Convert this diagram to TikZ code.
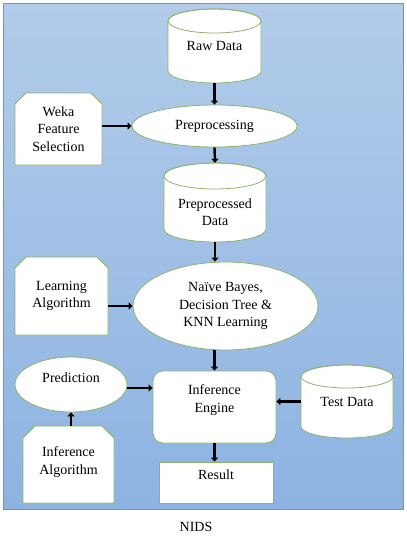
\documentclass[tikz,border=0pt]{standalone}
\usepackage{fontspec}
\setmainfont{Liberation Serif}
\usetikzlibrary{shapes.geometric,arrows.meta,calc}
\definecolor{boxgreen}{HTML}{8DB46A}
\definecolor{bgtop}{HTML}{B2CCEA}
\definecolor{bgbot}{HTML}{8DB3E2}
\definecolor{bgborder}{HTML}{6F93C3}
\newcommand\mycyl[7]{% name, cx, rx, ytop, ybot, ry, text
  \path[fill=white,draw=boxgreen,line width=0.8pt] ({#2-#3},{#4+#6}) -- ({#2-#3},{#5-#6})
    arc[start angle=180,end angle=360,x radius=#3pt,y radius=#6pt]
    -- ({#2+#3},{#4+#6})
    arc[start angle=0,end angle=180,x radius=#3pt,y radius=#6pt] -- cycle;
  \draw[boxgreen,line width=0.8pt] (#2,{#4+#6}) ellipse[x radius=#3pt,y radius=#6pt];
  \node[txt,minimum width={2*#3pt},minimum height={(#5-#4)*1pt}] (#1) at (#2,{(#4+#5)/2}) {#7};
}
\newcommand\mychamf[7]{% name, cx, cy, w, h, chamfer, text
  \path[fill=white,draw=boxgreen,line width=0.8pt]
    ({#2-#4/2},{#3-#5/2+#6}) -- ({#2-#4/2+#6},{#3-#5/2}) -- ({#2+#4/2-#6},{#3-#5/2})
    -- ({#2+#4/2},{#3-#5/2+#6}) -- ({#2+#4/2},{#3+#5/2}) -- ({#2-#4/2},{#3+#5/2}) -- cycle;
  \node[txt,minimum width=#4pt,minimum height=#5pt] (#1) at (#2,#3) {#7};
}
\tikzset{
  txt/.style={inner sep=0pt,align=center,font=\fontsize{14}{17.5}\selectfont},
  shapebox/.style={draw=boxgreen,fill=white,line width=0.8pt,inner sep=0pt},
  oval/.style={shapebox,ellipse},
  arr/.style={line width=2.4pt,-{Triangle[length=4pt,width=7pt]}},
}
\begin{document}
\begin{tikzpicture}[x=1pt,y=-1pt]
\useasboundingbox (0,0) rectangle (407,539);
\path[top color=bgtop,bottom color=bgbot,draw=bgborder,line width=0.8pt] (3,3) rectangle (403,509);

\mycyl{raw}{214.5}{46.5}{9}{83}{12}{Raw Data}
\node[oval,minimum width=165pt,minimum height=42pt,txt] (prep) at (214.5,126) {Preprocessing};
\mychamf{weka}{58.5}{129}{87}{72}{11}{Weka\\Feature\\Selection}
\mycyl{ppd}{215}{51}{163}{242}{13}{}
\node[txt] (ppdtxt) at (215,212) {Preprocessed\\Data};
\node[oval,minimum width=185pt,minimum height=88pt,txt] (nb) at (225.5,306) {Naïve Bayes,\\Decision Tree \&\\KNN Learning};
\mychamf{la}{61.5}{296}{93}{78}{11}{Learning\\Algorithm}
\node[shapebox,rounded corners=10pt,minimum width=123pt,minimum height=72pt] (ie) at (214.5,407) {};
\node[txt] (ietxt) at (214.5,400) {Inference\\Engine};
\node[oval,minimum width=112pt,minimum height=55pt] (pred) at (71,384.5) {};
\node[txt] (predtxt) at (71,378) {Prediction};
\mychamf{ia}{68.5}{464.5}{91}{77}{12}{}
\node[txt] (iatxt) at (68.5,462) {Inference\\Algorithm};
\mycyl{td}{347}{46}{365}{438}{11.5}{Test Data}
\node[shapebox,minimum width=114pt,minimum height=41pt] (res) at (216,482.5) {};
\node[txt] (restxt) at (216,475) {Result};
\node[txt] (nids) at (196,527) {NIDS};
\coordinate (pe) at ([yshift=-3.5pt]pred.east);

\draw[arr] (raw.south) -- (prep.north);
\draw[arr] (weka.east |- prep.west) -- (prep.west);
\draw[arr] (prep.south) -- (ppd.north);
\draw[arr] (ppd.south) -- (ppd.south |- nb.north);
\draw[arr] (la.east |- nb.west) -- (nb.west);
\draw[arr] (ie.north |- nb.south) -- (ie.north);
\draw[arr] (pe) -- (ie.west |- pe);
\draw[arr] (pred.south |- ia.north) -- (pred.south);
\draw[arr] (td.west) -- (ie.east |- td.west);
\draw[arr] (ie.south) -- (ie.south |- res.north);
\end{tikzpicture}
\end{document}
